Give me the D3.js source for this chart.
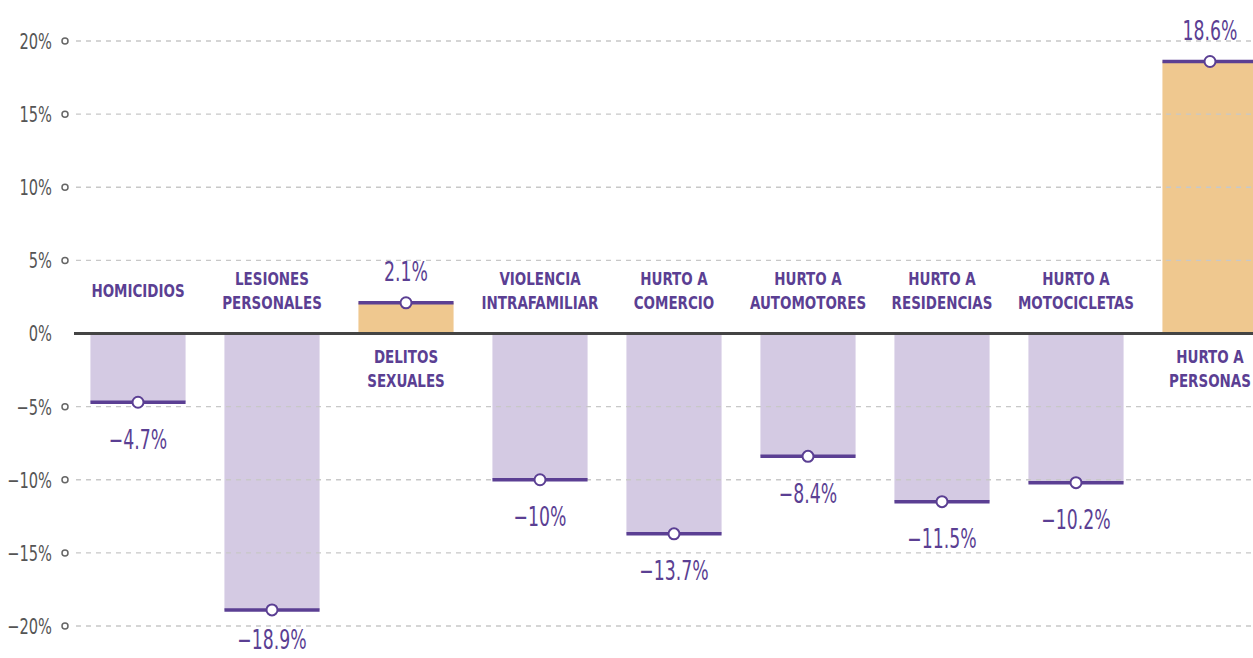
<!DOCTYPE html>
<html>
<head>
<meta charset="utf-8">
<script src="https://cdn.jsdelivr.net/npm/d3@7"></script>
<style>
  body { margin: 0; background: #fff; }
  svg { display: block; }
</style>
</head>
<body>
<div id="chart"></div>
<script>
const categories = [
    ["HOMICIDIOS"],
    ["LESIONES", "PERSONALES"],
    ["DELITOS", "SEXUALES"],
    ["VIOLENCIA", "INTRAFAMILIAR"],
    ["HURTO A", "COMERCIO"],
    ["HURTO A", "AUTOMOTORES"],
    ["HURTO A", "RESIDENCIAS"],
    ["HURTO A", "MOTOCICLETAS"],
    ["HURTO A", "PERSONAS"]
];
const values = [-4.7, -18.9, 2.1, -10, -13.7, -8.4, -11.5, -10.2, 18.6];
const valueLabels = ["−4.7%", "−18.9%", "2.1%", "−10%", "−13.7%", "−8.4%", "−11.5%", "−10.2%", "18.6%"];
const yTicks = [20, 15, 10, 5, 0, -5, -10, -15, -20];

const W = 1253, H = 658;
const purple = "#5b3f93";
const condensed = "'DejaVu Sans Condensed', 'Liberation Sans Narrow', sans-serif";

const svg = d3.select("#chart")
    .append("svg")
    .attr("width", W)
    .attr("height", H);

let x = d3.scaleBand()
    .domain(d3.range(categories.length))
    .range([71, 1277])
    .paddingInner(0.29)
    .paddingOuter(0.145);

let y = d3.scaleLinear()
    .domain([-20, 20])
    .range([626, 41]);

// bars
svg.selectAll("rect.bar")
    .data(values)
    .enter()
    .append("rect")
    .attr("x", (d, i) => x(i))
    .attr("width", x.bandwidth())
    .attr("y", d => Math.min(y(d), y(0)))
    .attr("height", d => Math.abs(y(d) - y(0)))
    .attr("fill", d => d > 0 ? "#efc88f" : "#d4cae3");

// gridlines
svg.selectAll("line.grid")
    .data(yTicks.filter(t => t != 0))
    .enter()
    .append("line")
    .attr("x1", 76)
    .attr("x2", W)
    .attr("y1", d => y(d))
    .attr("y2", d => y(d))
    .attr("stroke", "#c8c8c8")
    .attr("stroke-width", 1.3)
    .attr("stroke-dasharray", "5,5");

// zero line
svg.append("line")
    .attr("x1", 74)
    .attr("x2", W)
    .attr("y1", y(0))
    .attr("y2", y(0))
    .attr("stroke", "#444")
    .attr("stroke-width", 3);

// y axis labels (squeezed horizontally to look condensed)
let yAxis = svg.append("g");
yAxis.selectAll("text")
    .data(yTicks)
    .enter()
    .append("text")
    .attr("transform", d => "translate(52," + y(d) + ") scale(0.74,1)")
    .attr("dy", "0.36em")
    .attr("text-anchor", "end")
    .attr("fill", "#555")
    .style("font-family", condensed)
    .style("font-size", "22px")
    .text(d => (d < 0 ? "−" + Math.abs(d) : d) + "%");
yAxis.selectAll("circle")
    .data(yTicks.filter(t => t != 0))
    .enter()
    .append("circle")
    .attr("cx", 65)
    .attr("cy", d => y(d))
    .attr("r", 3)
    .attr("fill", "#fff")
    .attr("stroke", "#666")
    .attr("stroke-width", 1.5);

// value lines
svg.selectAll("line.val")
    .data(values)
    .enter()
    .append("line")
    .attr("x1", (d, i) => x(i))
    .attr("x2", (d, i) => x(i) + x.bandwidth())
    .attr("y1", d => y(d))
    .attr("y2", d => y(d))
    .attr("stroke", purple)
    .attr("stroke-width", 3.5);

svg.selectAll("circle.val")
    .data(values)
    .enter()
    .append("circle")
    .attr("cx", (d, i) => x(i) + x.bandwidth() / 2)
    .attr("cy", d => y(d))
    .attr("r", 5.5)
    .attr("fill", "#fff")
    .attr("stroke", purple)
    .attr("stroke-width", 2);

// value labels
svg.selectAll("text.val")
    .data(values)
    .enter()
    .append("text")
    .attr("transform", (d, i) => {
        let cx = x(i) + x.bandwidth() / 2;
        // keep the lowest label inside the picture
        let cy = d < 0 ? Math.min(y(d) + 37, 640) : y(d) - 31;
        return "translate(" + cx + "," + cy + ") scale(0.74,1)";
    })
    .attr("dy", "0.36em")
    .attr("text-anchor", "middle")
    .attr("fill", purple)
    .style("font-family", condensed)
    .style("font-size", "26px")
    .text((d, i) => valueLabels[i]);

// category labels
let catG = svg.selectAll("g.cat")
    .data(categories)
    .enter()
    .append("g")
    .attr("transform", (d, i) => "translate(" + (x(i) + x.bandwidth() / 2) + ",0) scale(0.88,1)");

catG.each(function(lines, i) {
    let top;
    if (values[i] < 0) {
        top = 291 - (lines.length - 1) * 12;
    } else {
        top = 357;
    }
    d3.select(this).selectAll("text")
        .data(lines)
        .enter()
        .append("text")
        .attr("x", 0)
        .attr("y", (l, j) => top + j * 24)
        .attr("dy", "0.36em")
        .attr("text-anchor", "middle")
        .attr("fill", purple)
        .style("font-family", condensed)
        .style("font-weight", "bold")
        .style("font-size", "17px")
        .text(l => l);
});
</script>
</body>
</html>
